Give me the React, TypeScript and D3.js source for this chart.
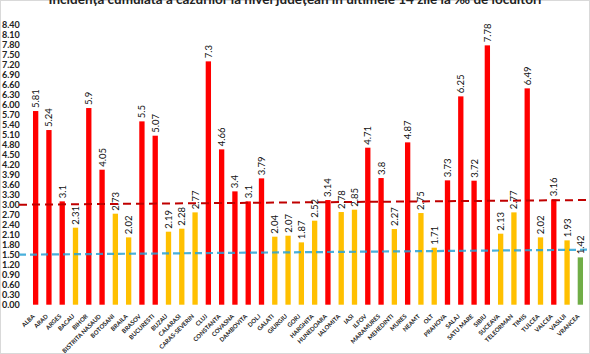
import React from 'react';
import * as d3 from 'd3';

// Cumulative 14-day incidence per county (‰), bar chart with two trend lines.

const WIDTH = 590;
const HEIGHT = 354;
const MARGIN = { top: 24.7, right: 3, bottom: 49.3, left: 29 };

const TITLE = 'Incidența cumulată a cazurilor la nivel județean în ultimele 14 zile la ‰ de locuitori';

const COUNTIES = [
  'ALBA', 'ARAD', 'ARGES', 'BACAU', 'BIHOR', 'BISTRITA NASAUD', 'BOTOSANI', 'BRAILA',
  'BRASOV', 'BUCURESTI', 'BUZAU', 'CALARASI', 'CARAS-SEVERIN', 'CLUJ', 'CONSTANTA',
  'COVASNA', 'DAMBOVITA', 'DOLJ', 'GALATI', 'GIURGIU', 'GORJ', 'HARGHITA', 'HUNEDOARA',
  'IALOMITA', 'IASI', 'ILFOV', 'MARAMURES', 'MEHEDINTI', 'MURES', 'NEAMT', 'OLT',
  'PRAHOVA', 'SALAJ', 'SATU MARE', 'SIBIU', 'SUCEAVA', 'TELEORMAN', 'TIMIS', 'TULCEA',
  'VALCEA', 'VASLUI', 'VRANCEA',
];

const INCIDENCE = [
  5.81, 5.24, 3.1, 2.31, 5.9, 4.05, 2.73, 2.02,
  5.5, 5.07, 2.19, 2.28, 2.77, 7.3, 4.66,
  3.4, 3.1, 3.79, 2.04, 2.07, 1.87, 2.52, 3.14,
  2.78, 2.85, 4.71, 3.8, 2.27, 4.87, 2.75, 1.71,
  3.73, 6.25, 3.72, 7.78, 2.13, 2.77, 6.49, 2.02,
  3.16, 1.93, 1.42,
];

// scenario bucket for colouring: 'red' >= 3, 'yellow' 1.5..3, 'green' < 1.5
const SCENARIO = INCIDENCE.map((v) => (v >= 3 ? 'red' : v >= 1.5 ? 'yellow' : 'green'));

const Y_TICKS = d3.range(0, 28.5).map((i) => +(i * 0.3).toFixed(2));

// dashed trend lines: value at left edge, value at right edge
const RED_LINE = [3.0, 3.14];
const BLUE_LINE = [1.5, 1.65];

const COLORS: Record<string, string> = {
  red: '#ff0000',
  yellow: '#ffc000',
  green: '#70ad47',
};

const FONT = 'Lato, "Open Sans", sans-serif';

export default function App() {
  const x = d3
    .scaleBand<string>()
    .domain(COUNTIES)
    .range([MARGIN.left, WIDTH - MARGIN.right])
    .paddingInner(0.6)
    .paddingOuter(0.3);

  const y = d3
    .scaleLinear()
    .domain([0, 8.4])
    .range([HEIGHT - MARGIN.bottom, MARGIN.top]);

  const lineX0 = 19;
  const lineX1 = WIDTH - 2;

  return (
    <div style={{ position: 'fixed', left: 0, top: 0 }}>
      <svg width={WIDTH} height={HEIGHT} style={{ display: 'block', background: '#fff' }}>
        <rect x={0.5} y={0.5} width={WIDTH - 1} height={HEIGHT - 1} fill="none" stroke="#d9d9d9" />

        {/* title, mostly cropped off at the top edge as in the source */}
        <text
          x={295}
          y={4}
          textAnchor="middle"
          fontFamily={FONT}
          fontWeight={700}
          fontSize={13.5}
          fill="#222"
        >
          {TITLE}
        </text>

        {/* y tick labels */}
        {Y_TICKS.map((t) => (
          <text
            key={`yt-${t}`}
            x={2}
            y={y(t)}
            dy="0.35em"
            fontFamily={FONT}
            fontWeight={700}
            fontSize={9}
            fill="#222"
          >
            {t.toFixed(2)}
          </text>
        ))}

        {/* bars */}
        {COUNTIES.map((c, i) => (
          <rect
            key={`bar-${c}`}
            x={x(c)}
            y={y(INCIDENCE[i])}
            width={x.bandwidth()}
            height={y(0) - y(INCIDENCE[i])}
            fill={COLORS[SCENARIO[i]]}
          />
        ))}

        {/* trend lines */}
        <line
          x1={lineX0}
          x2={lineX1}
          y1={y(RED_LINE[0])}
          y2={y(RED_LINE[1])}
          stroke="#c00000"
          strokeWidth={2}
          strokeDasharray="8 5"
        />
        <line
          x1={lineX0}
          x2={lineX1}
          y1={y(BLUE_LINE[0])}
          y2={y(BLUE_LINE[1])}
          stroke="#2aa3d6"
          strokeWidth={2.2}
          strokeDasharray="7 4"
          opacity={0.85}
        />

        {/* value labels */}
        {COUNTIES.map((c, i) => {
          const cx = (x(c) ?? 0) + x.bandwidth() / 2 + 3.5;
          const cy = y(INCIDENCE[i]) - 3;
          return (
            <text
              key={`val-${c}`}
              transform={`translate(${cx},${cy}) rotate(-90)`}
              fontFamily={FONT}
              fontSize={9.5}
              fill="#111"
            >
              {String(INCIDENCE[i])}
            </text>
          );
        })}

        {/* category labels */}
        {COUNTIES.map((c) => {
          const cx = (x(c) ?? 0) + x.bandwidth() / 2 - 0.5;
          return (
            <text
              key={`cat-${c}`}
              transform={`translate(${cx},${y(0) + 12}) rotate(-45)`}
              textAnchor="end"
              fontFamily={FONT}
              fontWeight={700}
              fontSize={6}
              fill="#222"
            >
              {c}
            </text>
          );
        })}
      </svg>
    </div>
  );
}
